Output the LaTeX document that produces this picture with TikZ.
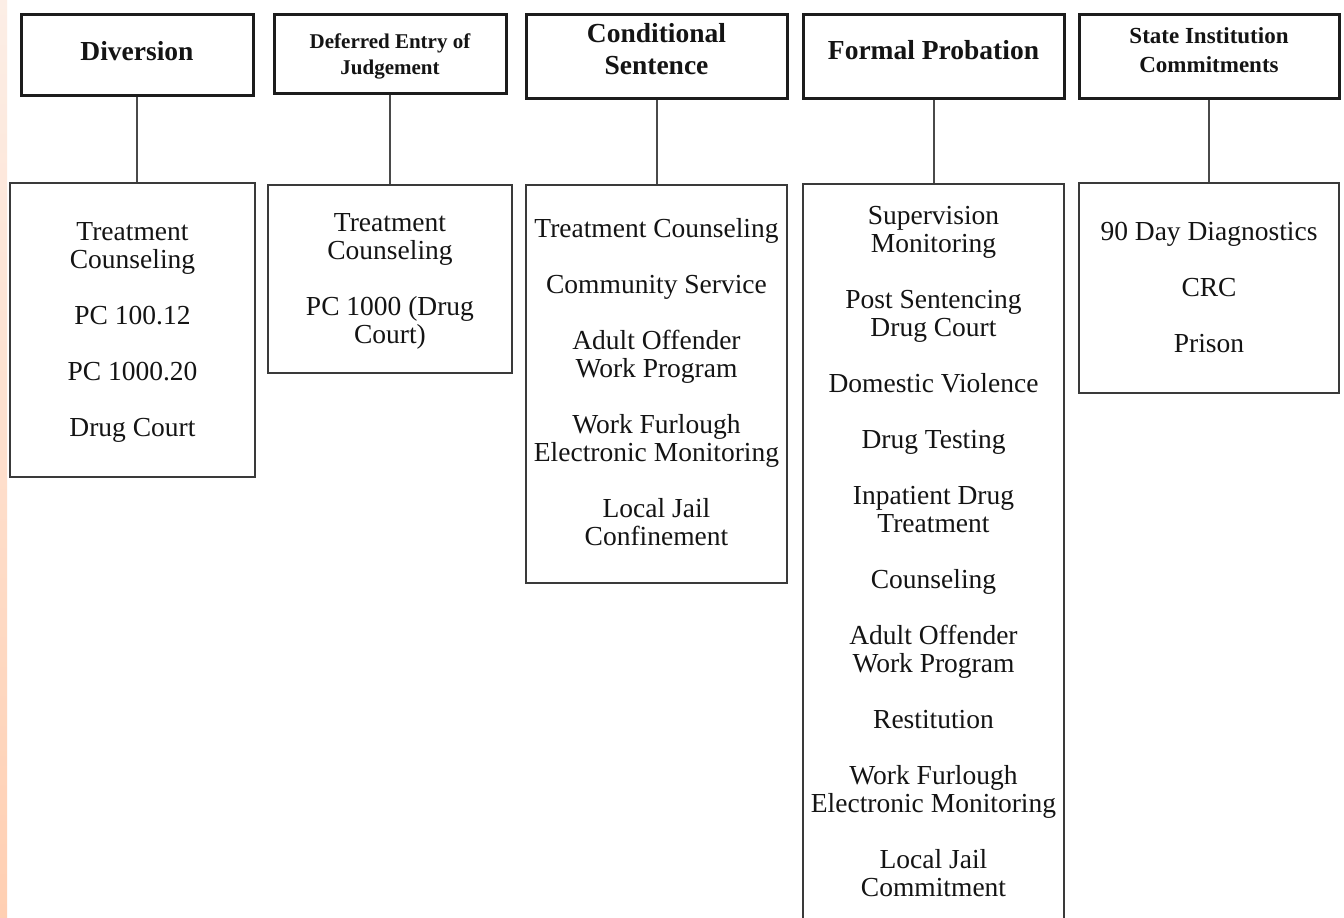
\documentclass[tikz,border=0pt]{standalone}
\usepackage{fontspec}
\setmainfont{Liberation Serif}
\definecolor{headc}{HTML}{1C1C1C}
\definecolor{childc}{HTML}{3A3A3A}
\definecolor{connc}{HTML}{4A4A4A}
\definecolor{txt}{HTML}{141414}
\definecolor{stripA}{HTML}{FCEEE6}
\definecolor{stripB}{HTML}{FFCFB2}
\tikzset{
  headbox/.style={draw=headc, line width=3pt, align=center, inner sep=0pt, text=txt,
    font=\bfseries\fontsize{27.5}{32}\selectfont},
  childbox/.style={draw=childc, line width=2.5pt, align=center, inner sep=0pt, text=txt,
    font=\fontsize{27.5}{28}\selectfont},
  conn/.style={draw=connc, line width=2pt},
}
\begin{document}
\begin{tikzpicture}[x=1pt,y=-1pt]
\useasboundingbox (0,0) rectangle (1344,918);
\fill[white] (0,0) rectangle (1344,918);
\shade[top color=stripA, bottom color=stripB] (0,0) rectangle (7,918);
\clip (0,0) rectangle (1344,918);

% headers
\node[headbox, minimum width=232pt, minimum height=81pt, text height=11pt, text depth=0pt] (h1) at (137,54.5) {Diversion};
\node[headbox, font=\bfseries\fontsize{21}{26}\selectfont, minimum width=232pt, minimum height=79pt, text height=41pt, text depth=0pt] (h2) at (390,53.5) {Deferred Entry of\\Judgement};
\node[headbox, minimum width=261pt, minimum height=84pt, text height=36pt, text depth=0pt] (h3) at (656.5,56) {Conditional\\Sentence};
\node[headbox, minimum width=261pt, minimum height=84pt, text height=6pt, text depth=0pt] (h4) at (933.5,56) {Formal Probation};
\node[headbox, font=\bfseries\fontsize{23}{28.5}\selectfont, minimum width=260pt, minimum height=84pt, text height=32pt, text depth=0pt] (h5) at (1209,56) {State Institution\\Commitments};

% children
\node[childbox, minimum width=245pt, minimum height=294pt, text height=212pt, text depth=0pt] (c1) at (132.5,330)
  {Treatment\\Counseling\\[28pt]PC 100.12\\[28pt]PC 1000.20\\[28pt]Drug Court};
\node[childbox, minimum width=244pt, minimum height=188pt, text height=128pt, text depth=0pt] (c2) at (390,279)
  {Treatment\\Counseling\\[28pt]PC 1000 (Drug\\Court)};
\node[childbox, minimum width=261pt, minimum height=398pt, text height=322pt, text depth=0pt] (c3) at (656.5,384)
  {Treatment Counseling\\[28pt]Community Service\\[28pt]Adult Offender\\Work Program\\[28pt]Work Furlough\\Electronic Monitoring\\[28pt]Local Jail\\Confinement};
\node[childbox, minimum width=261pt, minimum height=737pt, text height=687pt, text depth=0pt] (c4) at (933.5,552.5)
  {Supervision\\Monitoring\\[28pt]Post Sentencing\\Drug Court\\[28pt]Domestic Violence\\[28pt]Drug Testing\\[28pt]Inpatient Drug\\Treatment\\[28pt]Counseling\\[28pt]Adult Offender\\Work Program\\[28pt]Restitution\\[28pt]Work Furlough\\Electronic Monitoring\\[28pt]Local Jail\\Commitment};
\node[childbox, minimum width=260pt, minimum height=210pt, text height=128pt, text depth=0pt] (c5) at (1209,288)
  {90 Day Diagnostics\\[28pt]CRC\\[28pt]Prison};

% connectors
\draw[conn] (h1.south) -- (h1.south |- c1.north);
\draw[conn] (h2.south) -- (h2.south |- c2.north);
\draw[conn] (h3.south) -- (h3.south |- c3.north);
\draw[conn] (h4.south) -- (h4.south |- c4.north);
\draw[conn] (h5.south) -- (h5.south |- c5.north);
\end{tikzpicture}
\end{document}
